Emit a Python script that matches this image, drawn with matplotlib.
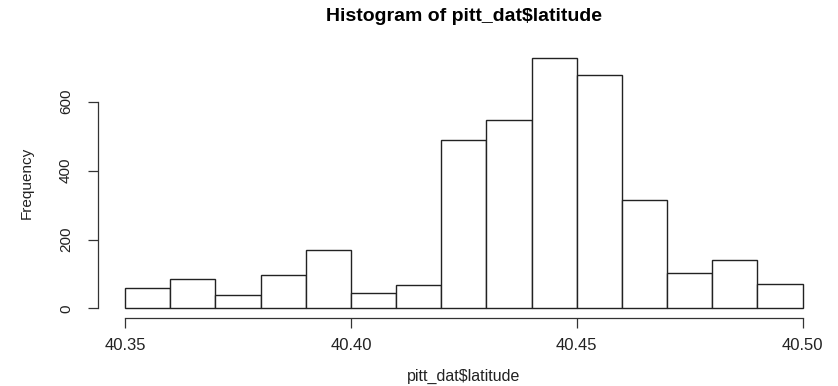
import numpy as np
import matplotlib.pyplot as plt

plt.rcParams['font.family'] = ['Liberation Sans', 'DejaVu Sans']

# histogram bins (latitude) and counts
bin_edges = [40.35, 40.36, 40.37, 40.38, 40.39, 40.40, 40.41, 40.42,
             40.43, 40.44, 40.45, 40.46, 40.47, 40.48, 40.49, 40.50]
counts = [58, 84, 40, 98, 170, 44, 67, 489, 546, 726, 676, 315, 102, 140, 72]
x_ticks = [40.35, 40.40, 40.45, 40.50]
y_ticks = [0, 200, 400, 600]

fig = plt.figure(figsize=(8.38, 3.86), dpi=100)
ax = fig.add_axes([0.117, 0.175, 0.873, 0.70])

ax.hist(bin_edges[:-1], bins=bin_edges, weights=counts,
        facecolor='white', edgecolor='#222222', linewidth=1.0)

xr = bin_edges[-1] - bin_edges[0]
ax.set_xlim(bin_edges[0] - 0.04 * xr, bin_edges[-1] + 0.04 * xr)
ymax = max(counts)
ax.set_ylim(-0.04 * ymax, ymax * 1.04)

# R style detached axes
for s in ['top', 'right']:
    ax.spines[s].set_visible(False)
ax.spines['left'].set_bounds(y_ticks[0], y_ticks[-1])
ax.spines['bottom'].set_bounds(x_ticks[0], x_ticks[-1])
for s in ['left', 'bottom']:
    ax.spines[s].set_color('#333333')
    ax.spines[s].set_linewidth(0.9)

ax.set_xticks(x_ticks)
ax.set_xticklabels(['%.2f' % v for v in x_ticks])
ax.set_yticks(y_ticks)
ax.set_yticklabels([str(v) for v in y_ticks], rotation=90, va='center')
ax.tick_params(axis='both', direction='out', length=7, width=0.9,
               color='#333333', labelcolor='#222222')
ax.tick_params(axis='x', labelsize=12, pad=7)
ax.tick_params(axis='y', labelsize=11, pad=11)

ax.set_xlabel('pitt_dat\\$latitude', fontsize=11.5, color='#222222', va='center')
ax.xaxis.set_label_coords(0.5, -0.215)
ax.set_ylabel('Frequency', fontsize=11, color='#222222', va='center')
ax.yaxis.set_label_coords(-0.097, 0.5)
fig.text(0.5 * (0.117 + 0.99), 0.956, 'Histogram of pitt_dat\\$latitude',
         ha='center', va='center', fontsize=14, fontweight='bold')

plt.savefig('out.png', dpi=100)
